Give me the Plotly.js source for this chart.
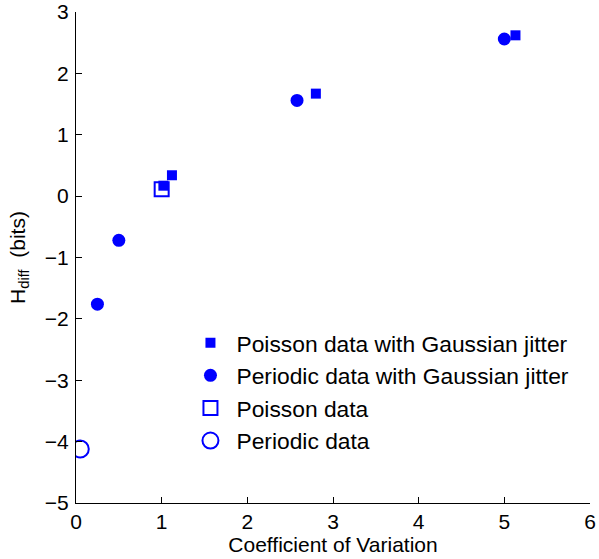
<!DOCTYPE html>
<html><head><meta charset="utf-8">
<script src="https://cdn.plot.ly/plotly-3.0.1.min.js"></script>
<style>body{margin:0;background:#fff}#c{width:599px;height:559px}</style>
</head><body><div id="c"></div>
<script>
const poissonJitterX = [1.02, 1.12, 2.80, 5.13];
const poissonJitterY = [0.17, 0.34, 1.67, 2.62];
const periodicJitterX = [0.25, 0.50, 2.58, 5.00];
const periodicJitterY = [-1.76, -0.72, 1.56, 2.56];
const poissonX = [1.00];
const poissonY = [0.11];
const periodicX = [0.05];
const periodicY = [-4.12];
const names = ['Poisson data with Gaussian jitter','Periodic data with Gaussian jitter','Poisson data','Periodic data'];
const xTicks = [0,1,2,3,4,5,6];
const yTicks = [-5,-4,-3,-2,-1,0,1,2,3];
const blue = '#0000ff';
const traces = [
 {x: poissonJitterX, y: poissonJitterY, name: names[0], mode:'markers', type:'scatter',
  marker:{symbol:'square', size:10, color:blue}},
 {x: periodicJitterX, y: periodicJitterY, name: names[1], mode:'markers', type:'scatter',
  marker:{symbol:'circle', size:13, color:blue}},
 {x: poissonX, y: poissonY, name: names[2], mode:'markers', type:'scatter',
  marker:{symbol:'square-open', size:14, color:blue, line:{width:2, color:blue}}},
 {x: periodicX, y: periodicY, name: names[3], mode:'markers', type:'scatter',
  marker:{symbol:'circle-open', size:17, color:blue, line:{width:2, color:blue}}}
];
const fam = 'Liberation Sans, Arial, sans-serif';
const layout = {
  width:599, height:559,
  margin:{l:76, r:9, t:12, b:56},
  paper_bgcolor:'#fff', plot_bgcolor:'#fff',
  font: {family:fam, size:21, color:'#000'},
  showlegend:true,
  legend:{x:0.211, y:0.37, xanchor:'left', yanchor:'top', bgcolor:'rgba(0,0,0,0)',
          font:{family:fam, size:22.8, color:'#000'}, tracegroupgap:0, itemsizing:'trace', itemwidth:42},
  xaxis:{range:[0,6], tickvals:xTicks, ticktext:xTicks.map(String), ticks:'inside', ticklen:6,
         tickcolor:'#000', showline:true, linecolor:'#000', linewidth:1, showgrid:false, zeroline:false,
         mirror:false, tickfont:{size:21}, ticklabelstandoff:0,
         title:{text:'Coefficient of Variation', font:{size:21}, standoff:4}},
  yaxis:{range:[-5,3], tickvals:yTicks, ticktext:yTicks.map(v=>v<0?'\u2212'+Math.abs(v):String(v)),
         ticks:'inside', ticklen:6, tickcolor:'#000', showline:true, linecolor:'#000', linewidth:1,
         showgrid:false, zeroline:false, tickfont:{size:21}, ticklabelstandoff:2,
         title:{text:'H<sub>diff</sub>  (bits)', font:{size:21}, standoff:13}}
};
Plotly.newPlot('c', traces, layout, {displayModeBar:false, staticPlot:true});
</script></body></html>
